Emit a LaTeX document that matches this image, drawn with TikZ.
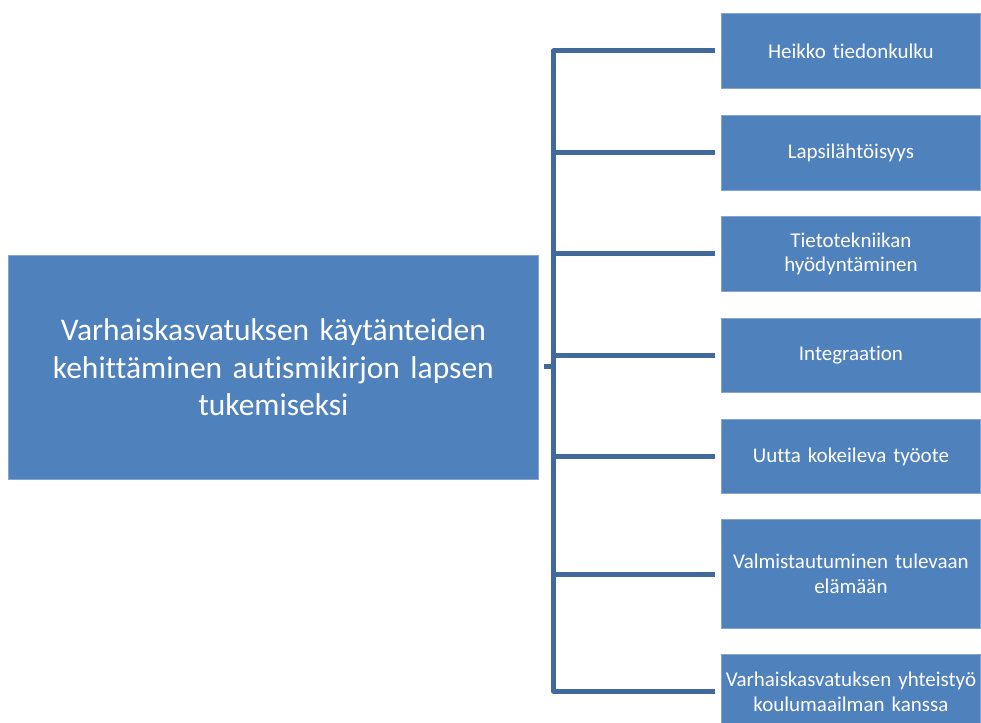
\documentclass[tikz,border=0pt]{standalone}
\usepackage{fontspec}
\setmainfont[Ligatures=NoCommon]{Carlito}
\definecolor{boxfill}{HTML}{4F81BD}
\definecolor{boxedge}{HTML}{86A6D2}
\definecolor{linkblue}{HTML}{41699B}
\begin{document}
\begin{tikzpicture}[x=1pt,y=-1pt,
  box/.style={draw=boxedge,line width=0.8pt,fill=boxfill,text=white,align=center,inner sep=0pt,anchor=north west},
  leaf/.style={box,minimum width=259pt,text width=257pt,font=\fontsize{21}{24.5}\selectfont},
  link/.style={draw=linkblue,line width=5pt}]
\useasboundingbox (0,0) rectangle (981,722);
\begin{scope}
\clip (0,0) rectangle (981,722);
\node[box,minimum width=530pt,minimum height=224pt,text width=520pt,font=\fontsize{31.5}{37.5}\selectfont] (root) at (8,255) {Varhaiskasvatuksen käytänteiden\\kehittäminen autismikirjon lapsen\\tukemiseksi};
\node[leaf,minimum height=75pt] (b1) at (721,13) {Heikko tiedonkulku};
\node[leaf,minimum height=75pt] (b2) at (721,115) {Lapsilähtöisyys};
\node[leaf,minimum height=75pt] (b3) at (721,216) {Tietotekniikan\\hyödyntäminen};
\node[leaf,minimum height=74pt] (b4) at (721,318) {Integraation};
\node[leaf,minimum height=74pt] (b5) at (721,419) {Uutta kokeileva työote};
\node[leaf,minimum height=109pt] (b6) at (721,519) {Valmistautuminen tulevaan\\elämään};
\node[leaf,minimum height=75pt] (b7) at (721,654) {Varhaiskasvatuksen yhteistyö\\koulumaailman kanssa};
\coordinate (stub) at (544,366);
\coordinate (trunk) at (553.5,366);
\coordinate (top) at (553.5,51);
\coordinate (bot) at (553.5,691);
\draw[link] (stub) -- (trunk);
\draw[link,line join=round] ([xshift=-6pt]b1.west |- top) -- (top) -- (bot) -- ([xshift=-6pt]b7.west |- bot);
\draw[link] (553.5,153) -- ([xshift=-6pt]b2.west |- 0,153);
\draw[link] (553.5,253) -- ([xshift=-6pt]b3.west |- 0,253);
\draw[link] (553.5,355) -- ([xshift=-6pt]b4.west |- 0,355);
\draw[link] (553.5,456) -- ([xshift=-6pt]b5.west |- 0,456);
\draw[link] (553.5,574) -- ([xshift=-6pt]b6.west |- 0,574);
\end{scope}
\end{tikzpicture}
\end{document}
